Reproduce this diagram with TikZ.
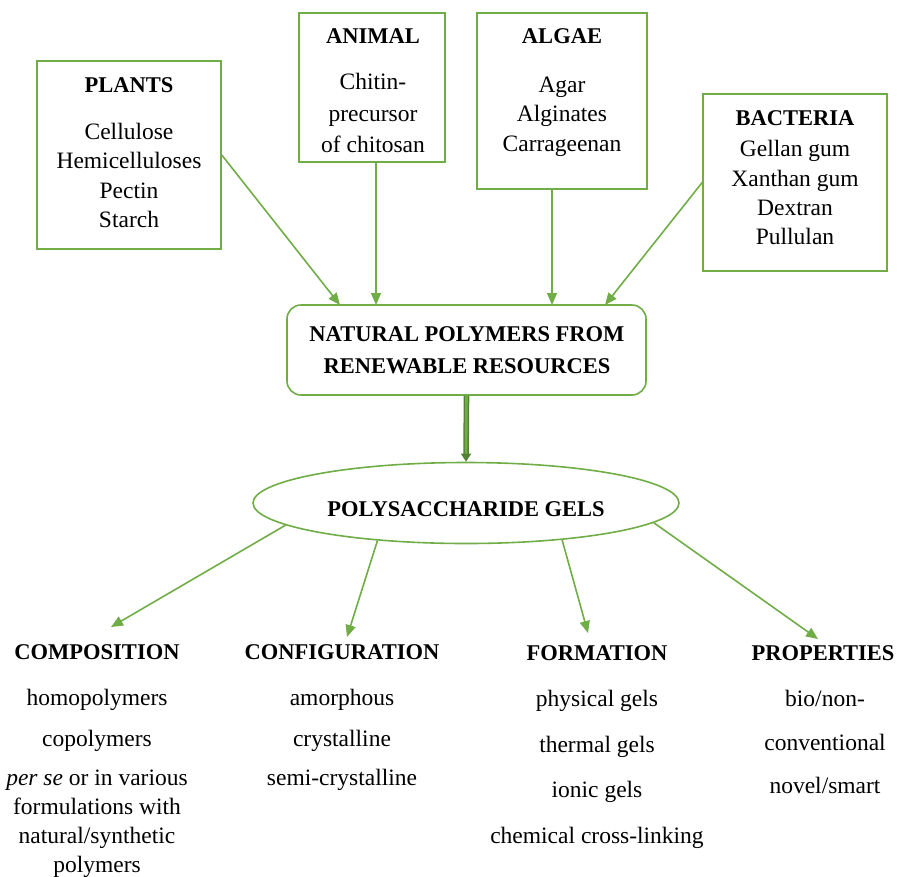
\documentclass[tikz,border=0pt]{standalone}
\usepackage{fontspec}
\setmainfont{Liberation Serif}
\usetikzlibrary{arrows.meta,shapes.geometric}
\definecolor{gr}{HTML}{70AD47}
\definecolor{dgr}{HTML}{548235}
\tikzset{
  box/.style={draw=gr, line width=1.6pt, rectangle, inner sep=0pt},
  txt/.style={anchor=base, inner sep=0pt, font=\fontsize{23.5}{27}\selectfont},
  ttl/.style={txt, font=\fontsize{22.5}{27}\selectfont\bfseries},
  arr/.style={draw=gr, line width=1.6pt, -{Triangle[length=12pt,width=10pt]}},
}
\begin{document}
\begin{tikzpicture}[x=1pt,y=-1pt]
\useasboundingbox (0,0) rectangle (897,876);
% boxes
\node[box, minimum width=184pt, minimum height=188pt] (plants) at (129,155) {};
\node[box, minimum width=146pt, minimum height=149pt] (animal) at (372,87.5) {};
\node[box, minimum width=170pt, minimum height=176pt] (algae) at (562,101) {};
\node[box, minimum width=184pt, minimum height=177pt] (bacteria) at (795,182.5) {};
\node[box, rounded corners=14pt, minimum width=359pt, minimum height=90pt] (natural) at (466.5,350) {};
\node[box, ellipse, minimum width=426pt, minimum height=81pt] (gels) at (466,503) {};
% texts
\node[ttl] (tplants) at (129,92) {PLANTS};
\node[txt] (p1) at (129,139) {Cellulose};
\node[txt] (p2) at (129,168) {Hemicelluloses};
\node[txt] (p3) at (129,198) {Pectin};
\node[txt] (p4) at (129,227) {Starch};
\node[ttl] (tanimal) at (373,43) {ANIMAL};
\node[txt] (a1) at (373,89) {Chitin-};
\node[txt] (a2) at (373,121) {precursor};
\node[txt] (a3) at (373,152) {of chitosan};
\node[ttl] (talgae) at (562,43) {ALGAE};
\node[txt] (g1) at (562,92) {Agar};
\node[txt] (g2) at (562,121) {Alginates};
\node[txt] (g3) at (562,151) {Carrageenan};
\node[ttl] (tbact) at (795,125) {BACTERIA};
\node[txt] (b1) at (795,156) {Gellan gum};
\node[txt] (b2) at (795,186) {Xanthan gum};
\node[txt] (b3) at (795,215) {Dextran};
\node[txt] (b4) at (795,244) {Pullulan};
\node[ttl] (n1) at (467,341) {NATURAL POLYMERS FROM};
\node[ttl] (n2) at (467,373) {RENEWABLE RESOURCES};
\node[ttl] (gt) at (466,516) {POLYSACCHARIDE GELS};
\node[ttl] (tcomp) at (97,659) {COMPOSITION};
\node[txt] (c1) at (97,705) {homopolymers};
\node[txt] (c2) at (97,746) {copolymers};
\node[txt] (c3) at (97,785) {\textit{per se} or in various};
\node[txt] (c4) at (97,814) {formulations with};
\node[txt] (c5) at (97,843) {natural/synthetic};
\node[txt] (c6) at (97,872) {polymers};
\node[ttl] (tconf) at (342,659) {CONFIGURATION};
\node[txt] (f1) at (342,705) {amorphous};
\node[txt] (f2) at (342,746) {crystalline};
\node[txt] (f3) at (342,785) {semi-crystalline};
\node[ttl] (tform) at (597,660) {FORMATION};
\node[txt] (m1) at (597,706) {physical gels};
\node[txt] (m2) at (597,752) {thermal gels};
\node[txt] (m3) at (597,797) {ionic gels};
\node[txt] (m4) at (597,843) {chemical cross-linking};
\node[ttl] (tprop) at (823,660) {PROPERTIES};
\node[txt] (r1) at (825,706) {bio/non-};
\node[txt] (r2) at (825,750) {conventional};
\node[txt] (r3) at (825,793) {novel/smart};
% arrow tips
\coordinate (tP) at (340,305);
\coordinate (tA) at (376,305);
\coordinate (tG) at (552,305);
\coordinate (tB) at (605,305);
\coordinate (e1) at (111,627);
\coordinate (e2) at (347,637);
\coordinate (e3) at (588,633);
\coordinate (e4) at (818,639);
% connectors
\draw[arr] (plants.east) -- (tP);
\draw[arr] (animal.south -| tA) -- (tA);
\draw[arr] (algae.south -| tG) -- (tG);
\draw[arr] (bacteria.west) -- (tB);
\draw[draw=dgr, line width=1.5pt, double=gr, double distance=2.6pt,
  -{Triangle[length=8pt,width=10pt,fill=dgr]}] (natural.south) -- (gels.north);
\draw[arr] (gels.187.4) -- (e1);
\draw[arr] (gels.203.8) -- (e2);
\draw[arr] (gels.339) -- (e3);
\draw[arr] (gels.354.2) -- (e4);
\end{tikzpicture}
\end{document}
